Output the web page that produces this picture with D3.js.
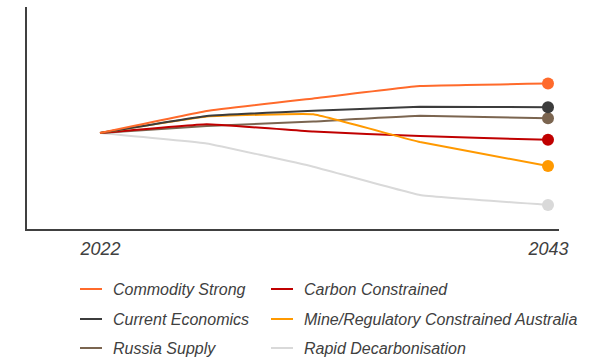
<!DOCTYPE html>
<html>
<head>
<meta charset="utf-8">
<script src="https://cdn.jsdelivr.net/npm/d3@7"></script>
<style>
  html, body { margin: 0; padding: 0; background: #fff; }
  svg { display: block; }
  text { font-family: "Liberation Sans", Arial, sans-serif; font-style: italic; fill: #404040; }
</style>
</head>
<body>
<svg id="chart" width="590" height="358"></svg>
<script>
// ---- data (index, 2022 = 100) ----
const years = [2022, 2027, 2032, 2037, 2043];
const tickYears = [2022, 2043];
const seriesNames = ["Commodity Strong", "Carbon Constrained", "Current Economics",
                     "Mine/Regulatory Constrained Australia", "Russia Supply", "Rapid Decarbonisation"];
const commodityStrong   = [100, 122.7, 135.7, 148.5, 151.0];
const carbonConstrained = [100, 109.0, 101.5, 96.9, 93.0];
const currentEconomics  = [100, 117.5, 123.0, 127.1, 126.6];
const mineRegulatory    = [100, 117.0, 119.3, 90.7, 66.0];
const russiaSupply      = [100, 107.2, 111.9, 117.8, 115.2];
const rapidDecarb       = [100, 89.2, 65.3, 36.1, 25.8];
const seriesValues = [commodityStrong, carbonConstrained, currentEconomics, mineRegulatory, russiaSupply, rapidDecarb];
const colors = ["#ff6a2b", "#c00000", "#3c3c3c", "#ff9900", "#7b6550", "#d9d9d9"];
// drawing order (light grey underneath)
const drawOrder = [5, 4, 1, 3, 2, 0];
// legend order (column-major: left col then right col)
const legendOrder = [0, 2, 4, 1, 3, 5];

const svg = d3.select("#chart");
const x = d3.scaleLinear().domain([2022, 2043]).range([100, 548]);
const y = d3.scaleLinear().domain([0, 230]).range([230, 7]);

// axes lines
svg.append("line").attr("x1", 26).attr("x2", 26).attr("y1", 7).attr("y2", 231)
  .attr("stroke", "#404040").attr("stroke-width", 2);
svg.append("line").attr("x1", 25).attr("x2", 559).attr("y1", 230).attr("y2", 230)
  .attr("stroke", "#404040").attr("stroke-width", 2);

// x tick labels via axis
const xAxis = d3.axisBottom(x).tickValues(tickYears).tickFormat(d3.format("d")).tickSize(0).tickPadding(0);
const gx = svg.append("g").attr("transform", "translate(0,242)").call(xAxis);
gx.select(".domain").remove();
gx.selectAll("text").attr("font-size", 18).attr("dy", "0.71em")
  .style("font-family", '"Liberation Sans", Arial, sans-serif').style("font-style", "italic").attr("fill", "#404040");

// lines
const line = d3.line().x((d, i) => x(years[i])).y(d => y(d)).curve(d3.curveCardinal.tension(0.75));
drawOrder.forEach(si => {
  svg.append("path").datum(seriesValues[si])
    .attr("d", line).attr("fill", "none")
    .attr("stroke", colors[si]).attr("stroke-width", 2);
});
// end markers
drawOrder.forEach(si => {
  const v = seriesValues[si];
  svg.append("circle").attr("cx", x(years[years.length - 1])).attr("cy", y(v[v.length - 1]))
    .attr("r", 6).attr("fill", colors[si]);
});

// legend
const legX = [80, 271];
const legY = [289, 319, 348];
legendOrder.forEach((si, k) => {
  const col = Math.floor(k / 3), row = k % 3;
  const g = svg.append("g").attr("transform", `translate(${legX[col]},${legY[row]})`);
  g.append("line").attr("x1", 0).attr("x2", 22).attr("y1", 0).attr("y2", 0)
    .attr("stroke", colors[si]).attr("stroke-width", 2);
  g.append("text").attr("x", 33).attr("y", 0).attr("dy", "0.35em")
    .attr("font-size", 16).text(seriesNames[si]);
});
</script>
</body>
</html>
